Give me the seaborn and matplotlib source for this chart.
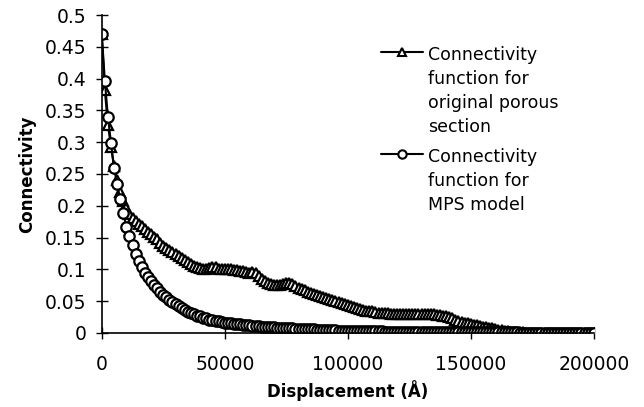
import numpy as np
import pandas as pd
import matplotlib
matplotlib.use("Agg")
import matplotlib.pyplot as plt
from matplotlib.ticker import FuncFormatter
from matplotlib.lines import Line2D
import seaborn as sns

# displacement sampled every 1250 A from 0 to 200000
step = 1250
n_points = 161

# connectivity function for original porous section (triangles)
original = [
    0.470, 0.382, 0.327, 0.293, 0.262, 0.240, 0.222, 0.208,
    0.197, 0.187, 0.181, 0.176, 0.172, 0.168, 0.164, 0.159,
    0.155, 0.151, 0.147, 0.141, 0.137, 0.134, 0.130, 0.127,
    0.124, 0.121, 0.118, 0.115, 0.112, 0.109, 0.106, 0.104,
    0.102, 0.101, 0.101, 0.102, 0.103, 0.103, 0.101, 0.101,
    0.101, 0.100, 0.100, 0.099, 0.099, 0.098, 0.097, 0.096,
    0.095, 0.096, 0.094, 0.090, 0.085, 0.081, 0.079, 0.077,
    0.076, 0.075, 0.075, 0.077, 0.079, 0.079, 0.077, 0.074,
    0.071, 0.069, 0.067, 0.065, 0.063, 0.061, 0.059, 0.058,
    0.056, 0.055, 0.054, 0.052, 0.050, 0.048, 0.047, 0.045,
    0.044, 0.042, 0.041, 0.039, 0.038, 0.036, 0.035, 0.034,
    0.034, 0.033, 0.032, 0.032, 0.031, 0.031, 0.030, 0.030,
    0.030, 0.030, 0.029, 0.029, 0.029, 0.029, 0.029, 0.029,
    0.029, 0.029, 0.029, 0.029, 0.029, 0.028, 0.028, 0.027,
    0.026, 0.025, 0.023, 0.021, 0.019, 0.017, 0.016, 0.015,
    0.014, 0.013, 0.012, 0.011, 0.010, 0.009, 0.008, 0.007,
    0.006, 0.005, 0.004, 0.003, 0.0025, 0.002, 0.0015, 0.001,
    0.001, 0.0008, 0.0006, 0.0005, 0.0005, 0.0004, 0.0004, 0.0003,
    0.0003, 0.0003, 0.0003, 0.0003, 0.0003, 0.0003, 0.0003, 0.0003,
    0.0002, 0.0002, 0.0002, 0.0002, 0.0002, 0.0002, 0.0002, 0.0002,
    0.0002,
]

# connectivity function for MPS model (circles)
mps = [
    0.470, 0.397, 0.340, 0.299, 0.259, 0.235, 0.210, 0.189,
    0.166, 0.152, 0.138, 0.124, 0.113, 0.103, 0.095, 0.088,
    0.082, 0.076, 0.070, 0.064, 0.060, 0.056, 0.052, 0.048,
    0.045, 0.042, 0.039, 0.036, 0.033, 0.031, 0.029, 0.027,
    0.026, 0.024, 0.023, 0.021, 0.020, 0.019, 0.018, 0.017,
    0.016, 0.0155, 0.015, 0.0145, 0.014, 0.0135, 0.013, 0.0125,
    0.012, 0.0115, 0.011, 0.0105, 0.010, 0.0097, 0.0094, 0.0091,
    0.0088, 0.0085, 0.0082, 0.0079, 0.0076, 0.0073, 0.0070, 0.0067,
    0.0064, 0.0062, 0.0060, 0.0058, 0.0056, 0.0054, 0.0052, 0.0050,
    0.0048, 0.0046, 0.0044, 0.0042, 0.0040, 0.0038, 0.0036, 0.0035,
    0.0034, 0.0033, 0.0032, 0.0031, 0.0030, 0.0029, 0.0028, 0.0027,
    0.0026, 0.0025, 0.0024, 0.0023, 0.0022, 0.0021, 0.0020, 0.0020,
    0.0019, 0.0018, 0.0018, 0.0017, 0.0017, 0.0016, 0.0016, 0.0015,
    0.0015, 0.0014, 0.0014, 0.0013, 0.0013, 0.0012, 0.0012, 0.0011,
    0.0011, 0.0011, 0.0010, 0.0010, 0.0010, 0.0009, 0.0009, 0.0009,
    0.0008, 0.0008, 0.0008, 0.0008, 0.0008, 0.0008, 0.0008, 0.0008,
    0.0007, 0.0007, 0.0007, 0.0007, 0.0007, 0.0007, 0.0007, 0.0007,
    0.0006, 0.0006, 0.0006, 0.0006, 0.0006, 0.0006, 0.0006, 0.0006,
    0.0005, 0.0005, 0.0005, 0.0005, 0.0005, 0.0005, 0.0005, 0.0005,
    0.0004, 0.0004, 0.0004, 0.0004, 0.0004, 0.0004, 0.0004, 0.0004,
    0.0004,
]

labels = [
    "Connectivity\nfunction for\noriginal porous\nsection",
    "Connectivity\nfunction for\nMPS model",
]
x_ticks = [0, 50000, 100000, 150000, 200000]
y_ticks = [0, 0.05, 0.1, 0.15, 0.2, 0.25, 0.3, 0.35, 0.4, 0.45, 0.5]

displacement = np.arange(n_points) * step
df = pd.DataFrame({"Displacement": displacement, "orig": original, "mps": mps})

sns.set_theme(style="white", rc={"text.color": "black", "axes.labelcolor": "black"})
plt.rcParams["font.family"] = ["DejaVu Sans"]

fig = plt.figure(figsize=(6.44, 4.07), dpi=100)
ax = fig.add_axes([0.158, 0.182, 0.764, 0.781])

mk = dict(markersize=7.5, markerfacecolor="white", markeredgecolor="black",
          markeredgewidth=1.6)
sns.lineplot(data=df, x="Displacement", y="orig", ax=ax, color="black", lw=1.5,
             marker="^", **mk)
sns.lineplot(data=df, x="Displacement", y="mps", ax=ax, color="black", lw=1.5,
             marker="o", **mk)

ax.set_xlim(0, 200000)
ax.set_ylim(0, 0.5)
ax.set_xticks(x_ticks)
ax.set_yticks(y_ticks)
ax.yaxis.set_major_formatter(FuncFormatter(lambda v, p: f"{v:g}"))
ax.xaxis.set_major_formatter(FuncFormatter(lambda v, p: f"{v:g}"))
ax.tick_params(axis="both", direction="inout", length=8, width=1, colors="black",
               labelsize=13.5)
ax.tick_params(axis="x", pad=12)
ax.tick_params(axis="y", pad=7)
ax.tick_params(left=True, bottom=True)

for side in ["top", "right"]:
    ax.spines[side].set_visible(False)
for side in ["left", "bottom"]:
    ax.spines[side].set_color("black")
    ax.spines[side].set_linewidth(1.2)

ax.set_xlabel("Displacement (Å)", fontsize=12, fontweight="bold", labelpad=4)
ax.set_ylabel("Connectivity", fontsize=12, fontweight="bold", labelpad=6)

handles = [
    Line2D([], [], color="black", lw=1.5, marker="^", markersize=6,
           markerfacecolor="white", markeredgewidth=1.5),
    Line2D([], [], color="black", lw=1.5, marker="o", markersize=6,
           markerfacecolor="white", markeredgewidth=1.5),
]
leg = ax.legend(handles, labels, loc="upper left", bbox_to_anchor=(0.55, 0.93),
                frameon=False, fontsize=12.5, handlelength=2.4, handletextpad=0.3,
                borderpad=0, labelspacing=0.7)
for t in leg.get_texts():
    t.set_linespacing(1.42)
for hp in leg._legend_handle_box.get_children()[0].get_children():
    hp.align = "top"

fig.savefig("out.png", dpi=100)
